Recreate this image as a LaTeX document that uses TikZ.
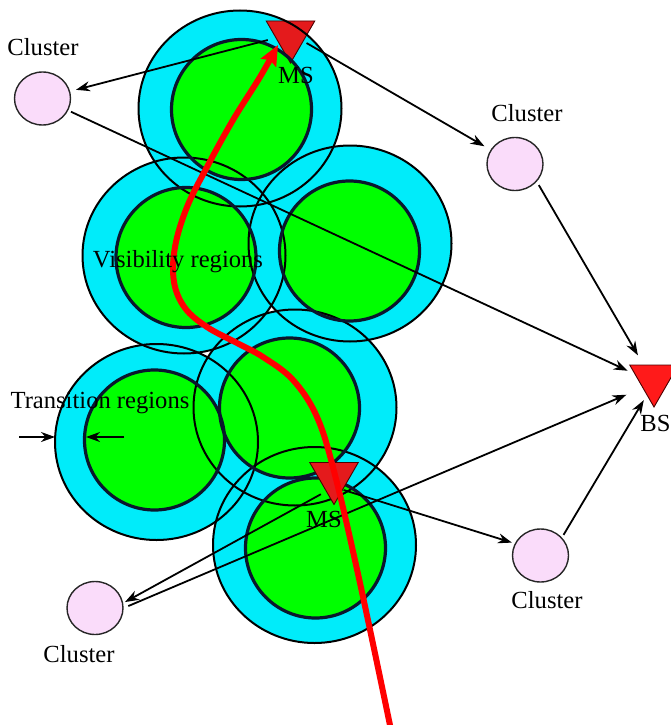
\documentclass[tikz,border=0pt]{standalone}
\usepackage{fontspec}
\setmainfont{Liberation Serif}
\usetikzlibrary{arrows.meta,shapes.geometric}
\definecolor{cyanring}{RGB}{0,236,250}
\definecolor{greencore}{RGB}{0,255,0}
\definecolor{coreline}{RGB}{10,22,45}
\definecolor{clusterfill}{RGB}{250,220,250}
\definecolor{msred}{RGB}{228,26,28}
\definecolor{bsred}{RGB}{255,26,26}
\definecolor{pathred}{RGB}{255,0,0}
\begin{document}
\begin{tikzpicture}[x=1pt,y=-1pt,
  lbl/.style={font=\fontsize{24.6}{27}\selectfont, inner sep=0pt, anchor=base},
  cluster/.style={ellipse, draw=black!85, line width=1.4pt, fill=clusterfill,
    minimum width=56pt, minimum height=53pt, inner sep=0pt},
  tri/.style={regular polygon, regular polygon sides=3, shape border rotate=180,
    minimum size=56pt, inner sep=0pt, draw=black!70!red, line width=0.9pt},
  conn/.style={line width=1.8pt, -{Stealth[length=14pt,width=10pt,inset=4.5pt]}},
  ring/.style={fill=cyanring},
  core/.style={fill=greencore},
  ringline/.style={draw=black, line width=2pt},
  coreline/.style={draw=coreline, line width=3.2pt},
  ]
\useasboundingbox (0,0) rectangle (670,725);
% outer (transition) regions
\foreach \cx/\cy in {240/108.5, 184/255.5, 350/243.5, 156.5/442, 295/407.5, 314.5/545}
  \fill[ring] (\cx,\cy) ellipse [x radius=101.5pt, y radius=98pt];
% inner (visibility) regions
\foreach \cx/\cy in {241.5/109.5, 186/257.5, 349.5/251, 154.5/440, 289.5/408, 315.5/548}
  \fill[core] (\cx,\cy) circle [radius=70pt];
% top MS
\node[tri, fill=msred] (ms1) at (290.5,35) {};
% outlines
\foreach \cx/\cy in {240/108.5, 184/255.5, 350/243.5, 156.5/442, 295/407.5, 314.5/545}
  \draw[ringline] (\cx,\cy) ellipse [x radius=101.5pt, y radius=98pt];
\foreach \cx/\cy in {241.5/109.5, 186/257.5, 349.5/251, 154.5/440, 289.5/408, 315.5/548}
  \draw[coreline] (\cx,\cy) circle [radius=70pt];
% clusters
\node[cluster] (cl1) at (42.5,98.5) {};
\node[cluster] (cl2) at (515,164) {};
\node[cluster] (cl3) at (95,608) {};
\node[cluster] (cl4) at (540.5,555.5) {};
% connector ends
\coordinate (ms1src) at (291,34);
\coordinate (ms2src) at (334,487);
\coordinate (bsdst) at (654,383);
\coordinate (tra) at (19,437);
\coordinate (trb) at (55,437);
\coordinate (trc) at (124,437);
\coordinate (trd) at (86,437);
% connectors
\draw[conn, shorten <=24pt, shorten >=6pt] (ms1src) -- (cl1);
\draw[conn, shorten <=18pt, shorten >=7pt] (ms1src) -- (cl2);
\draw[conn, shorten <=3pt, shorten >=29pt] (cl1) -- (bsdst);
\draw[conn, shorten <=4pt, shorten >=32pt] (cl2.-39) -- (bsdst);
\draw[conn, shorten <=5pt, shorten >=30pt] (cl3.0) -- (bsdst);
\draw[conn, shorten <=3pt, shorten >=20pt] (cl4.40) -- (bsdst);
\draw[conn, shorten <=15pt, shorten >=2pt] (ms2src) -- (cl3.10);
\draw[conn, shorten <=10pt, shorten >=3pt] (ms2src) -- (cl4.155);
\draw[conn] (tra) -- (trb);
\draw[conn] (trc) -- (trd);
% bottom MS and BS
\node[tri, fill=msred] (ms2) at (334,476.5) {};
\node[tri, fill=bsred] (bs) at (654,379) {};
% mobile station route
\draw[pathred, line width=6pt, -{Stealth[length=20pt,width=17pt,inset=3pt]}]
  plot[smooth, tension=0.6] coordinates {(391,730) (360,583) (335,475) (317,417)
  (293,380) (263,357) (237,343) (207,327) (185,308) (174,282) (175,247)
  (187,207) (207,167) (233,120) (260,77) (278,45)};
% labels
\node[lbl] (t1) at (43,56) {Cluster};
\node[lbl] (t2) at (296,83) {MS};
\node[lbl] (t3) at (527,121) {Cluster};
\node[lbl] (t4) at (178,267) {Visibility regions};
\node[lbl] (t5) at (100,408) {Transition regions};
\node[lbl] (t6) at (324,527) {MS};
\node[lbl] (t7) at (655.5,431) {BS};
\node[lbl] (t8) at (547,608) {Cluster};
\node[lbl] (t9) at (79,662) {Cluster};
\end{tikzpicture}
\end{document}
